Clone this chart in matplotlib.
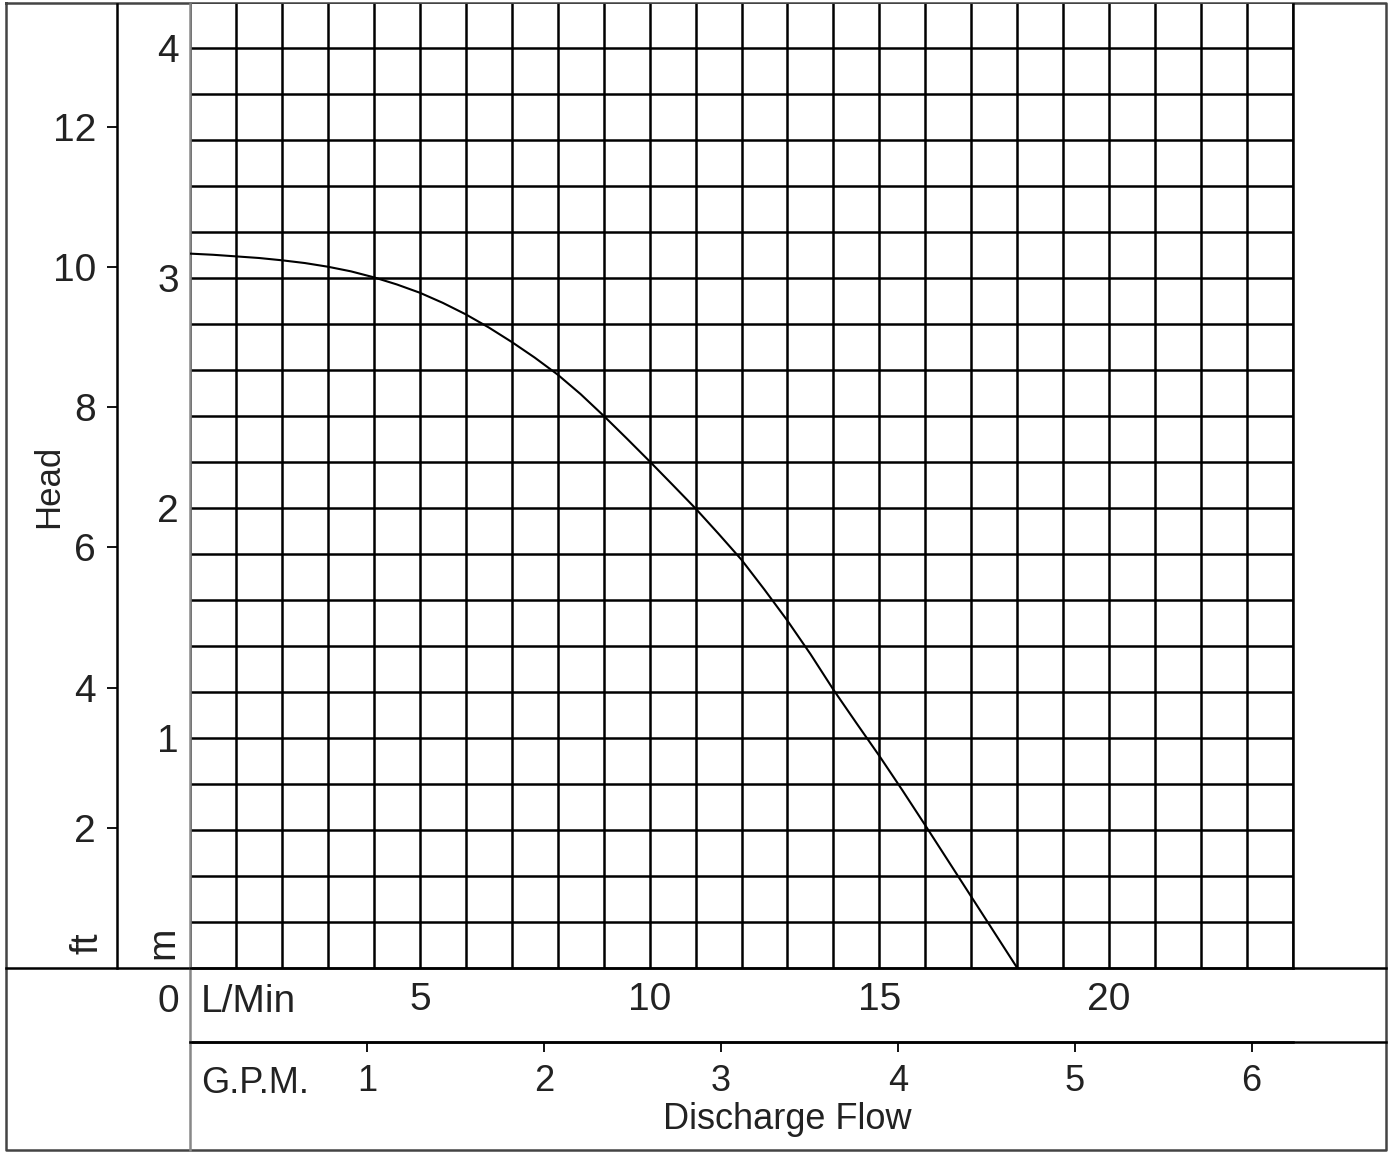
import numpy as np
import matplotlib
matplotlib.use("Agg")
import matplotlib.pyplot as plt

plt.rcParams['font.family'] = ['Liberation Sans', 'DejaVu Sans']

# pump curve: flow in L/min, head in m
flow_lpm = [0, 0.5, 1, 1.5, 2, 2.5, 3, 3.5, 4, 4.5, 5, 5.5, 6, 6.5, 7, 7.5,
            8, 8.5, 9, 9.5, 10, 10.5, 11, 11.5, 12, 12.5, 13, 13.5, 14, 14.5,
            15, 15.5, 16, 16.5, 17, 17.5, 18]
head_m = [3.106, 3.101, 3.094, 3.087, 3.077, 3.065, 3.049, 3.029, 3.003, 2.972,
          2.936, 2.892, 2.842, 2.785, 2.722, 2.654, 2.580, 2.495, 2.401, 2.303,
          2.203, 2.101, 1.998, 1.888, 1.775, 1.645, 1.51, 1.365, 1.21, 1.065,
          0.922, 0.773, 0.62, 0.465, 0.31, 0.155, 0.0]

lpm_ticks = [5, 10, 15, 20]
m_ticks = [1, 2, 3, 4]
ft_ticks = [2, 4, 6, 8, 10, 12]
gpm_ticks = [1, 2, 3, 4, 5, 6]

FT_PER_M = 3.281
LPM_PER_GPM = 3.85   # as drawn on the original sheet

W, H = 1392, 1152
TXT = '#222222'
LW = 1.8

fig = plt.figure(figsize=(W / 100, H / 100), dpi=100)

# frame of the sheet, in pixel coords
frame = fig.add_axes([0, 0, 1, 1])
frame.set_xlim(0, W)
frame.set_ylim(H, 0)
frame.axis('off')
frame.plot([6, 1386, 1386, 6, 6], [3, 3, 1150, 1150, 3], color='#444444', lw=LW)
frame.plot([6, 1386], [968, 968], color='black', lw=LW)
frame.plot([190, 1386], [1042, 1042], color='black', lw=LW)
frame.plot([190, 190], [968, 1150], color='#888888', lw=LW)

rot = dict(rotation=90, rotation_mode='anchor', ha='center', va='baseline', color=TXT)
frame.text(58, 486, 'Head', fontsize=25, **rot)
frame.text(97, 943, 'ft', fontsize=28, **rot)
frame.text(173, 943, 'm', fontsize=28, **rot)
frame.text(179, 1012, '0', ha='right', va='baseline', fontsize=28, color=TXT)
frame.text(201, 1012, 'L/Min', ha='left', va='baseline', fontsize=28, color=TXT)
frame.text(201, 1093, 'G.P.M.', ha='left', va='baseline', fontsize=26, color=TXT)
frame.text(787, 1129, 'Discharge Flow', ha='center', va='baseline', fontsize=26, color=TXT)

# grid area
ax = fig.add_axes([190 / W, (H - 968) / H, 1103 / W, 964 / H])
ax.set_xlim(0, 24)
ax.set_ylim(0, 964 / 230)
ax.set_xticks(np.arange(0, 25), minor=True)
ax.set_yticks(np.arange(0, 4.1, 0.2), minor=True)
ax.set_xticks(lpm_ticks)
ax.set_yticks(m_ticks)
ax.set_xticklabels([str(v) for v in lpm_ticks])
ax.set_yticklabels([str(v) for v in m_ticks])
ax.grid(which='both', color='black', lw=LW)
ax.tick_params(which='both', length=0)
ax.tick_params(axis='x', pad=10, labelsize=28, labelcolor=TXT)
ax.tick_params(axis='y', pad=8, labelsize=28, labelcolor=TXT)
ax.spines['top'].set_visible(False)
ax.spines['left'].set_color('#888888')
for s in ['left', 'right', 'bottom']:
    ax.spines[s].set_linewidth(LW)

ax.plot(flow_lpm, head_m, color='black', lw=1.5, zorder=3)

# feet scale
ax_ft = ax.secondary_yaxis(-73 / 1103, functions=(lambda m: m * FT_PER_M, lambda f: f / FT_PER_M))
ax_ft.set_yticks(ft_ticks)
ax_ft.set_yticklabels([str(v) for v in ft_ticks])
ax_ft.tick_params(direction='out', length=7, width=1.3, pad=8, labelsize=28, labelcolor=TXT)
ax_ft.spines['left'].set_linewidth(LW)

# gallons per minute scale
ax_gpm = ax.secondary_xaxis(-74 / 964, functions=(lambda l: l / LPM_PER_GPM, lambda g: g * LPM_PER_GPM))
ax_gpm.set_xticks(gpm_ticks)
ax_gpm.set_xticklabels([str(v) for v in gpm_ticks])
ax_gpm.tick_params(direction='out', length=7, width=1.3, pad=9, labelsize=26, labelcolor=TXT)
ax_gpm.spines['bottom'].set_linewidth(LW)

fig.savefig('out.png', dpi=100)
